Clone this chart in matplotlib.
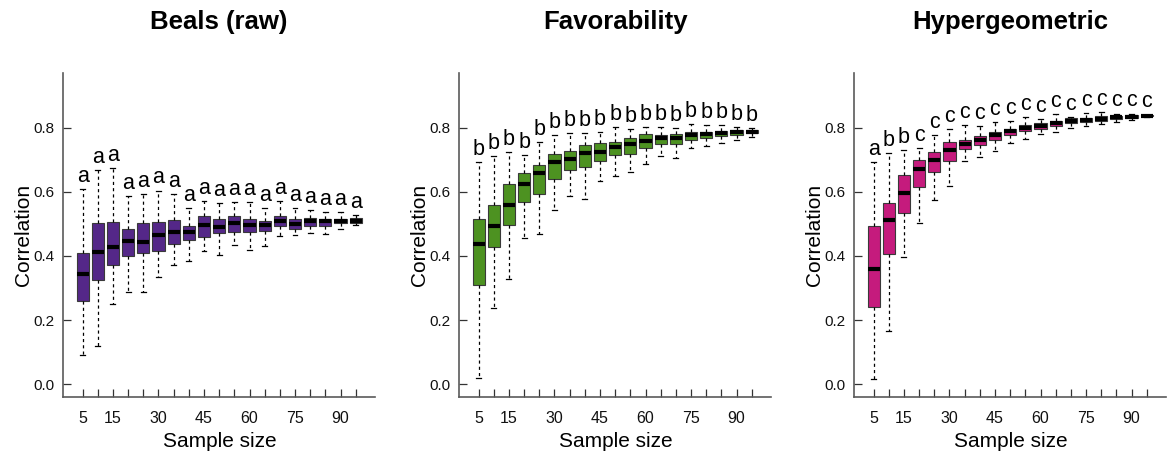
import matplotlib
matplotlib.use("Agg")
import matplotlib.pyplot as plt

plt.rcParams['font.family'] = ['Liberation Sans', 'DejaVu Sans']

sample_sizes = [5, 10, 15, 20, 25, 30, 35, 40, 45, 50, 55, 60, 65, 70, 75, 80, 85, 90, 95]
tick_labels_shown = [5, 15, 30, 45, 60, 75, 90]
titles = ["Beals (raw)", "Favorability", "Hypergeometric"]
colors = ["#542788", "#4D9221", "#C51B7D"]

# Beals (raw)
beals_whislo = [0.091, 0.120, 0.249, 0.289, 0.287, 0.336, 0.371, 0.383, 0.417, 0.404,
                0.434, 0.420, 0.431, 0.461, 0.465, 0.471, 0.469, 0.484, 0.496]
beals_q1 = [0.260, 0.325, 0.371, 0.401, 0.410, 0.417, 0.437, 0.450, 0.458, 0.473,
            0.476, 0.476, 0.479, 0.492, 0.485, 0.493, 0.493, 0.502, 0.502]
beals_med = [0.343, 0.413, 0.428, 0.448, 0.443, 0.466, 0.476, 0.475, 0.496, 0.489,
             0.504, 0.496, 0.496, 0.508, 0.500, 0.508, 0.508, 0.510, 0.510]
beals_q3 = [0.408, 0.504, 0.506, 0.483, 0.504, 0.506, 0.512, 0.495, 0.524, 0.514,
            0.524, 0.514, 0.510, 0.524, 0.514, 0.517, 0.516, 0.516, 0.517]
beals_whishi = [0.609, 0.668, 0.675, 0.588, 0.592, 0.604, 0.592, 0.550, 0.570, 0.564,
                0.568, 0.568, 0.550, 0.571, 0.549, 0.543, 0.538, 0.537, 0.528]
beals_letters = ["a"] * 19

# Favorability
fav_whislo = [0.021, 0.237, 0.327, 0.455, 0.467, 0.544, 0.587, 0.579, 0.633, 0.650,
              0.662, 0.687, 0.712, 0.707, 0.736, 0.743, 0.751, 0.761, 0.772]
fav_q1 = [0.310, 0.427, 0.496, 0.568, 0.593, 0.641, 0.667, 0.676, 0.696, 0.714,
          0.718, 0.738, 0.750, 0.750, 0.761, 0.769, 0.774, 0.778, 0.782]
fav_med = [0.436, 0.493, 0.558, 0.625, 0.660, 0.692, 0.703, 0.720, 0.725, 0.739,
           0.749, 0.757, 0.767, 0.767, 0.777, 0.780, 0.784, 0.786, 0.788]
fav_q3 = [0.515, 0.559, 0.623, 0.660, 0.683, 0.718, 0.727, 0.746, 0.751, 0.756,
          0.767, 0.779, 0.777, 0.780, 0.785, 0.787, 0.791, 0.793, 0.793]
fav_whishi = [0.694, 0.712, 0.725, 0.715, 0.754, 0.777, 0.782, 0.784, 0.785, 0.801,
              0.795, 0.803, 0.803, 0.798, 0.811, 0.807, 0.809, 0.803, 0.799]
fav_letters = ["b"] * 19

# Hypergeometric
hyp_whislo = [0.016, 0.166, 0.398, 0.502, 0.574, 0.618, 0.695, 0.708, 0.728, 0.753,
              0.764, 0.779, 0.788, 0.800, 0.806, 0.810, 0.817, 0.824, 0.833]
hyp_q1 = [0.242, 0.405, 0.535, 0.616, 0.661, 0.697, 0.734, 0.745, 0.763, 0.778,
          0.789, 0.797, 0.805, 0.814, 0.819, 0.822, 0.826, 0.830, 0.835]
hyp_med = [0.359, 0.512, 0.597, 0.672, 0.699, 0.729, 0.750, 0.762, 0.778, 0.790,
           0.800, 0.806, 0.814, 0.821, 0.824, 0.828, 0.832, 0.834, 0.837]
hyp_q3 = [0.493, 0.565, 0.651, 0.698, 0.724, 0.756, 0.763, 0.775, 0.786, 0.797,
          0.809, 0.814, 0.821, 0.829, 0.831, 0.836, 0.837, 0.838, 0.840]
hyp_whishi = [0.692, 0.720, 0.730, 0.738, 0.778, 0.795, 0.808, 0.806, 0.817, 0.821,
              0.832, 0.828, 0.842, 0.834, 0.847, 0.848, 0.844, 0.844, 0.841]
hyp_letters = ["a", "b", "b"] + ["c"] * 16

panels = [
    (beals_whislo, beals_q1, beals_med, beals_q3, beals_whishi, beals_letters),
    (fav_whislo, fav_q1, fav_med, fav_q3, fav_whishi, fav_letters),
    (hyp_whislo, hyp_q1, hyp_med, hyp_q3, hyp_whishi, hyp_letters),
]

W, H = 1171, 454
fig = plt.figure(figsize=(W / 100, H / 100), dpi=100)
lefts = [63.3, 459.3, 854.3]
ax_w = 311.7
ax_bottom = 396.7
ax_top = 73.3

axis_gray = "#5a5a5a"
positions = list(range(1, len(sample_sizes) + 1))

for i, (lo, q1, med, q3, hi, letters) in enumerate(panels):
    ax = fig.add_axes([lefts[i] / W, (H - ax_bottom) / H, ax_w / W, (ax_bottom - ax_top) / H])
    stats = []
    for k in range(len(sample_sizes)):
        stats.append(dict(med=med[k], q1=q1[k], q3=q3[k], whislo=lo[k], whishi=hi[k],
                          fliers=[], label=str(sample_sizes[k])))
    ax.bxp(stats, positions=positions, widths=0.8, capwidths=0.32, showfliers=False,
           patch_artist=True,
           boxprops=dict(facecolor=colors[i], edgecolor="#3a3a3a", linewidth=0.8),
           medianprops=dict(color="black", linewidth=3, solid_capstyle="butt"),
           whiskerprops=dict(color="black", linewidth=0.9, linestyle=(0, (2.5, 2.5))),
           capprops=dict(color="black", linewidth=0.9))
    for k, letter in enumerate(letters):
        ax.text(positions[k], hi[k] + 0.022, letter, ha="center", va="baseline",
                fontsize=15.5, color="black")

    ax.set_xlim(-0.27, 20.27)
    ax.set_ylim(-0.0387, 0.9695)
    ax.set_xticks(positions)
    ax.set_xticklabels([str(s) if s in tick_labels_shown else "" for s in sample_sizes])
    ax.set_yticks([0.0, 0.2, 0.4, 0.6, 0.8])
    ax.set_yticklabels(["0.0", "0.2", "0.4", "0.6", "0.8"])
    ax.tick_params(axis="x", direction="in", length=6, width=0.9, color="#333333",
                   labelsize=11.5, pad=10, labelcolor="#111111")
    ax.tick_params(axis="y", direction="in", length=5.5, width=0.9, color="#333333",
                   labelsize=11, pad=6, labelcolor="#111111")
    for side in ["top", "right"]:
        ax.spines[side].set_visible(False)
    for side in ["left", "bottom"]:
        ax.spines[side].set_color(axis_gray)
        ax.spines[side].set_linewidth(1.2)

    ax.set_xlabel("Sample size", fontsize=15)
    ax.set_ylabel("Correlation", fontsize=15)
    ax.xaxis.set_label_coords(0.501, -0.137)
    ax.xaxis.label.set_verticalalignment("center")
    ax.yaxis.set_label_coords(-0.128, 0.5)
    ax.yaxis.label.set_verticalalignment("center")
    ax.text(0.5, 1.159, titles[i], transform=ax.transAxes, ha="center", va="center",
            fontsize=18.5, fontweight="bold")

fig.savefig("out.png", dpi=100)
